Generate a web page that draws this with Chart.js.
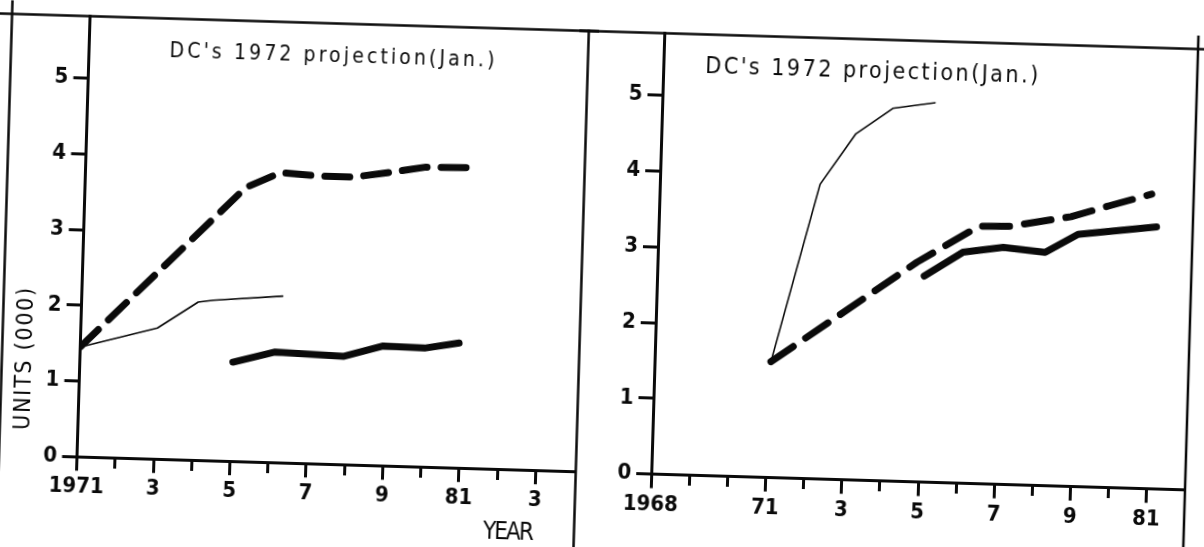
<!DOCTYPE html>
<html>
<head>
<meta charset="utf-8">
<script src="https://cdn.jsdelivr.net/npm/chart.js@4.4.1/dist/chart.umd.min.js"></script>
<style>
html, body { margin:0; padding:0; background:#fff; width:1204px; height:547px; overflow:hidden; }
#sheet { position:absolute; left:0; top:0; width:1240px; height:600px; transform-origin:0 0; transform:rotate(1.7deg); }
#c1 { position:absolute; left:0; top:0; }
#c2 { position:absolute; left:580px; top:0; }
</style>
</head>
<body>
<div id="sheet">
  <canvas id="c1" width="600" height="600"></canvas>
  <canvas id="c2" width="650" height="600"></canvas>
</div>
<script>
// ---------- DATA ----------
const panelTitle = "DC's 1972 projection(Jan.)";
const yAxisLabel = "UNITS (000)";
const xAxisLabel = "YEAR";
const yTickValues = [0, 1, 2, 3, 4, 5];

// Left panel
const leftTickYears  = [1971, 1972, 1973, 1974, 1975, 1976, 1977, 1978, 1979, 1980, 1981, 1982, 1983];
const leftTickLabels = ['1971', '', '3', '', '5', '', '7', '', '9', '', '81', '', '3'];
const leftProjYears   = [1971, 1975.2, 1976.1, 1977.1, 1978.0, 1979.0, 1979.9, 1981.2];
const leftProjValues  = [1.45, 3.62, 3.83, 3.80, 3.80, 3.88, 3.96, 3.97];
const leftThinYears   = [1971, 1973.0, 1974.05, 1974.45, 1976.25];
const leftThinValues  = [1.45, 1.73, 2.09, 2.12, 2.20];
const leftSolidYears  = [1975.0, 1976.1, 1977.9, 1978.9, 1980.0, 1980.9];
const leftSolidValues = [1.31, 1.46, 1.43, 1.58, 1.57, 1.65];

// Right panel
const rightTickYears  = [1968, 1969, 1970, 1971, 1972, 1973, 1974, 1975, 1976, 1977, 1978, 1979, 1980, 1981];
const rightTickLabels = ['1968', '', '', '71', '', '3', '', '5', '', '7', '', '9', '', '81'];
const rightProjYears   = [1971.05, 1974.8, 1976.4, 1977.2, 1978.8, 1979.8, 1980.9];
const rightProjValues  = [1.53, 2.90, 3.40, 3.41, 3.56, 3.72, 3.89];
const rightThinYears   = [1971.05, 1972.2, 1973.1, 1974.05, 1975.15];
const rightThinValues  = [1.53, 3.89, 4.57, 4.92, 5.01];
const rightSolidYears  = [1975.0, 1976.0, 1977.05, 1978.15, 1979.0, 1981.05];
const rightSolidValues = [2.72, 3.05, 3.13, 3.08, 3.33, 3.46];

// ---------- helpers ----------
const INK = '#0a0a0a';
const NARROW = '"DejaVu Sans Condensed", "Liberation Sans Narrow", "DejaVu Sans", sans-serif';
const pts = (xs, ys) => xs.map((x, i) => ({ x: x, y: ys[i] }));

function spacedText(ctx, text, x, y, targetWidth, font) {
  ctx.font = font;
  const w = ctx.measureText(text).width;
  const sp = (targetWidth - w) / (text.length - 1);
  if ('letterSpacing' in ctx) ctx.letterSpacing = sp.toFixed(2) + 'px';
  ctx.fillText(text, x, y);
  if ('letterSpacing' in ctx) ctx.letterSpacing = '0px';
}

function line(ctx, x1, y1, x2, y2) {
  ctx.beginPath(); ctx.moveTo(x1, y1); ctx.lineTo(x2, y2); ctx.stroke();
}

function datasets(projX, projY, thinX, thinY, solidX, solidY, dash) {
  return [
    { data: pts(projX, projY), borderColor: INK, borderWidth: 7, borderDash: dash,
      borderCapStyle: 'round', borderJoinStyle: 'round', pointRadius: 0, tension: 0, fill: false },
    { data: pts(thinX, thinY), borderColor: INK, borderWidth: 1.6,
      borderCapStyle: 'round', borderJoinStyle: 'round', pointRadius: 0, tension: 0, fill: false },
    { data: pts(solidX, solidY), borderColor: INK, borderWidth: 7,
      borderCapStyle: 'round', borderJoinStyle: 'round', pointRadius: 0, tension: 0, fill: false }
  ];
}

function makeOptions(cfg) {
  return {
    responsive: false, animation: false, events: [],
    layout: { padding: { left: 0, right: cfg.padRight, top: cfg.top, bottom: 600 - cfg.bottom - 60 } },
    plugins: { legend: { display: false }, tooltip: { enabled: false }, title: { display: false } },
    scales: {
      x: {
        type: 'linear', min: cfg.xMin, max: cfg.xMax,
        afterBuildTicks: s => { s.ticks = cfg.tickYears.map(v => ({ value: v })); },
        afterFit: s => { s.height = 60; s.paddingLeft = 0; s.paddingRight = 0; },
        ticks: {
          autoSkip: false, maxRotation: 0, minRotation: 0, padding: 3, color: INK,
          font: { family: NARROW, size: 22, weight: 'bold' },
          callback: v => { const i = cfg.tickYears.indexOf(v); return i >= 0 ? cfg.tickLabels[i] : ''; }
        },
        grid: {
          drawOnChartArea: false, drawTicks: true, tickLength: 14, tickWidth: 3, tickColor: INK,
          tickBorderDash: c => {
            const i = c.tick ? cfg.tickYears.indexOf(c.tick.value) : -1;
            return (i >= 0 && cfg.tickLabels[i] === '') ? [9, 60] : [];
          }
        },
        border: { display: true, color: INK, width: 3 }
      },
      y: {
        type: 'linear', min: 0, max: 5.82,
        afterBuildTicks: s => { s.ticks = yTickValues.map(v => ({ value: v })); },
        afterFit: s => { s.width = cfg.axisLeft; s.paddingTop = 0; s.paddingBottom = 0; },
        ticks: { padding: 5, color: INK, font: { family: NARROW, size: 22, weight: 'bold' } },
        grid: { drawOnChartArea: false, drawTicks: true, tickLength: 15, tickWidth: 3, tickColor: INK },
        border: { display: true, color: INK, width: 3 }
      }
    }
  };
}

// ---------- left panel ----------
const leftDecor = {
  id: 'leftDecor',
  afterDraw(chart) {
    const ctx = chart.ctx;
    ctx.save();
    ctx.strokeStyle = INK; ctx.lineWidth = 2.5;
    line(ctx, 0, 13.6, 600, 13.6);       // top frame line
    line(ctx, 12.5, 0, 12.5, 600);       // outer left frame
    line(ctx, 589.5, 12, 589.5, 600);    // divider between panels
    ctx.fillStyle = INK;
    ctx.textAlign = 'left'; ctx.textBaseline = 'alphabetic';
    spacedText(ctx, panelTitle, 171, 52, 325, '21px ' + NARROW);
    ctx.textAlign = 'center';
    spacedText(ctx, xAxisLabel, 523, 524, 51, '24px ' + NARROW);
    ctx.translate(36, 358); ctx.rotate(-Math.PI / 2);
    ctx.textAlign = 'left'; ctx.textBaseline = 'middle';
    spacedText(ctx, yAxisLabel, -71, 0, 142, '23px ' + NARROW);
    ctx.restore();
  }
};

new Chart(document.getElementById('c1'), {
  type: 'line',
  data: { datasets: datasets(leftProjYears, leftProjValues, leftThinYears, leftThinValues,
                             leftSolidYears, leftSolidValues, [25, 14]) },
  options: makeOptions({ padRight: 600 - 589.5, top: 13.6, bottom: 454.2, axisLeft: 90.6,
                         xMin: 1971, xMax: 1984.05, tickYears: leftTickYears, tickLabels: leftTickLabels }),
  plugins: [leftDecor]
});

// ---------- right panel ----------
const rightDecor = {
  id: 'rightDecor',
  afterDraw(chart) {
    const ctx = chart.ctx;
    ctx.save();
    ctx.strokeStyle = INK; ctx.lineWidth = 2.5;
    line(ctx, 0, 13.6, 650, 13.6);       // top frame line
    line(ctx, 619, 0, 619, 600);         // right frame
    ctx.fillStyle = INK;
    ctx.textAlign = 'left'; ctx.textBaseline = 'alphabetic';
    spacedText(ctx, panelTitle, 127, 52, 333, '23px ' + NARROW);
    ctx.restore();
  }
};

new Chart(document.getElementById('c2'), {
  type: 'line',
  data: { datasets: datasets(rightProjYears, rightProjValues, rightThinYears, rightThinValues,
                             rightSolidYears, rightSolidValues, [27, 15]) },
  options: makeOptions({ padRight: 650 - 619, top: 13.6, bottom: 454.6, axisLeft: 85,
                         xMin: 1968, xMax: 1982, tickYears: rightTickYears, tickLabels: rightTickLabels }),
  plugins: [rightDecor]
});
</script>
</body>
</html>
